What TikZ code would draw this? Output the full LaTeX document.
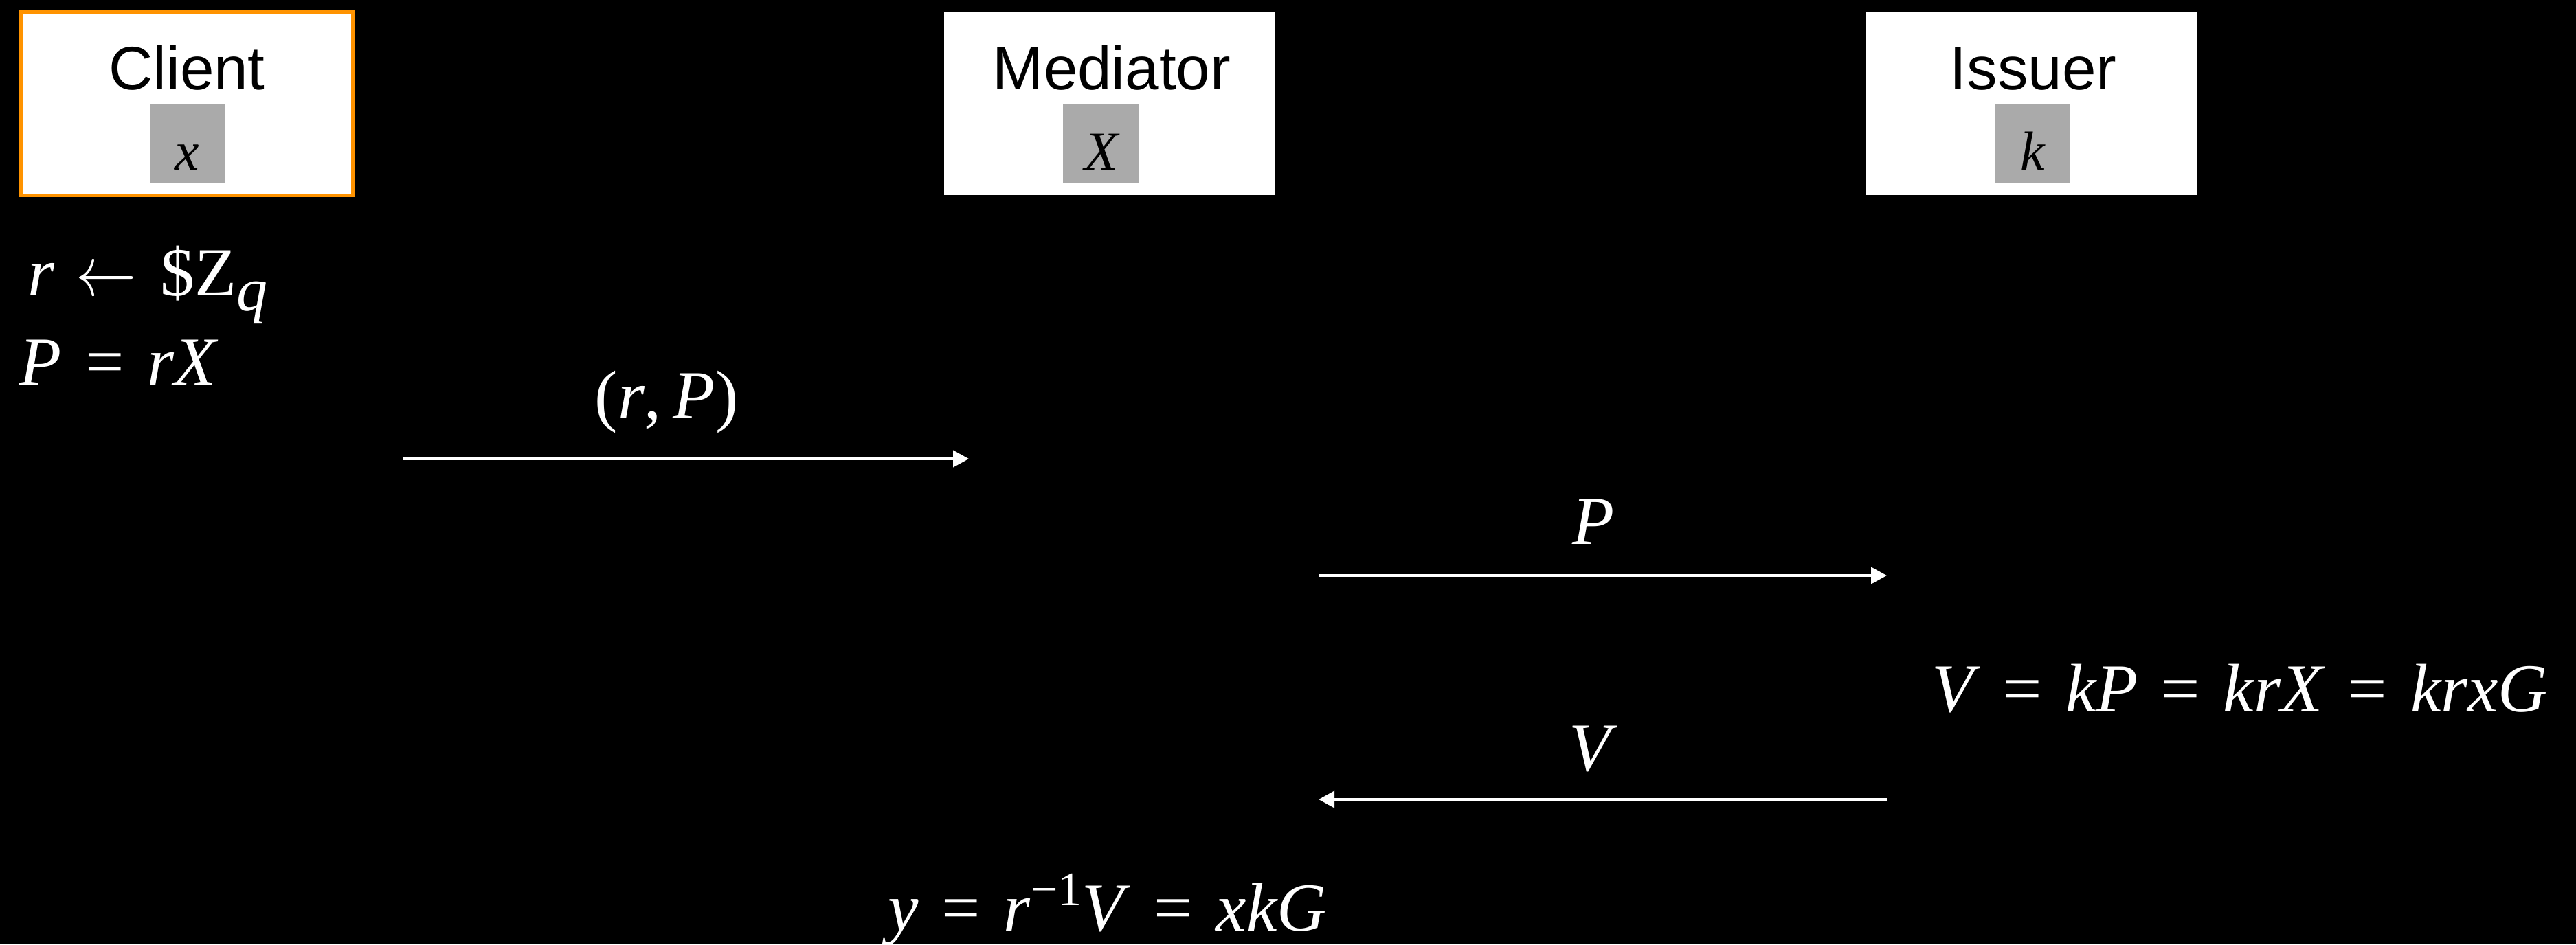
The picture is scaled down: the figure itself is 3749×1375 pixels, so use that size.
\documentclass[tikz,border=0pt]{standalone}
\usepackage{fontspec}
\setmainfont{Liberation Serif}
\newfontfamily\labelfont{Liberation Sans}
\usetikzlibrary{arrows.meta}
\definecolor{keyorange}{RGB}{255,147,0}
\definecolor{keygray}{RGB}{170,170,170}
\newcommand\eqsp{\hspace{0.34em}=\hspace{0.34em}}
\newcommand\mi[1]{\textit{#1}}
\begin{document}
\begin{tikzpicture}[x=0.2pt,y=-0.2pt,
  party/.style={rectangle, fill=white, minimum width=96.4pt, minimum height=53.4pt, inner sep=0pt},
  title/.style={font=\labelfont\fontsize{17.8}{20}\selectfont, text=black, anchor=base, inner sep=0pt},
  secret/.style={rectangle, fill=keygray, minimum width=22pt, minimum height=23pt, inner sep=0pt},
  secretlbl/.style={font=\fontsize{16}{18}\selectfont\itshape, text=black, anchor=base, inner sep=0pt},
  mathtxt/.style={font=\fontsize{20}{24}\selectfont, text=white, inner sep=0pt},
  msg/.style={draw=white, line width=0.8pt, -{Triangle[length=4.6pt,width=4.8pt]}}
]
\fill[black] (0,0) rectangle (3749,1375);
\useasboundingbox (0,0) rectangle (3749,1375);

% parties
\node[party, draw=keyorange, line width=1pt] (client) at (272,151) {};
\node[title] (clientname) at (272,130) {Client};
\node[secret] (clientkey) at (273,208.5) {};
\node[secretlbl] (clientx) at (272,247) {x};

\node[party] (mediator) at (1615,150.5) {};
\node[title] (medname) at (1618,130) {Mediator};
\node[secret] (medkey) at (1601.5,208.5) {};
\node[secretlbl] (medX) at (1603,247) {X};

\node[party] (issuer) at (2957,150) {};
\node[title] (issname) at (2959,130) {Issuer};
\node[secret] (isskey) at (2958,208.5) {};
\node[secretlbl] (issk) at (2958,247) {k};

% computations
\node[mathtxt, anchor=base west] (rand) at (40,430) {\mi{r}\hspace{0.3em}\scalebox{0.85}[1]{$\leftarrow$}\hspace{0.35em}\$Z\raisebox{-0.22em}{\fontsize{18}{18}\selectfont\itshape q}};
\node[mathtxt, anchor=base west] (pdef) at (28,560) {\mi{P}\eqsp\mi{rX}};
\node[mathtxt, anchor=base west] (vdef) at (2810,1036) {\mi{V}\eqsp\mi{kP}\eqsp\mi{krX}\eqsp\mi{krxG}};
\node[mathtxt, anchor=base west] (ydef) at (1291,1355) {\mi{y}\eqsp\mi{r}\raisebox{0.37em}{\fontsize{14}{14}\selectfont −1}\mi{V}\eqsp\mi{xkG}};

% messages
\node[mathtxt, anchor=base] (lbl1) at (970,609) {(\mi{r},\hspace{0.17em}\mi{P})};
\node[mathtxt, anchor=base] (lbl2) at (2319,792) {\mi{P}};
\node[mathtxt, anchor=base] (lbl3) at (2319,1122) {\mi{V}};

\coordinate (m1s) at (586,668);
\coordinate (m1e) at (1410,668);
\coordinate (m2s) at (1919,838);
\coordinate (m2e) at (2746,838);
\coordinate (m3s) at (2746,1164);
\coordinate (m3e) at (1919,1164);
\draw[msg] (m1s) -- (m1e);
\draw[msg] (m2s) -- (m2e);
\draw[msg] (m3s) -- (m3e);
\end{tikzpicture}
\end{document}
